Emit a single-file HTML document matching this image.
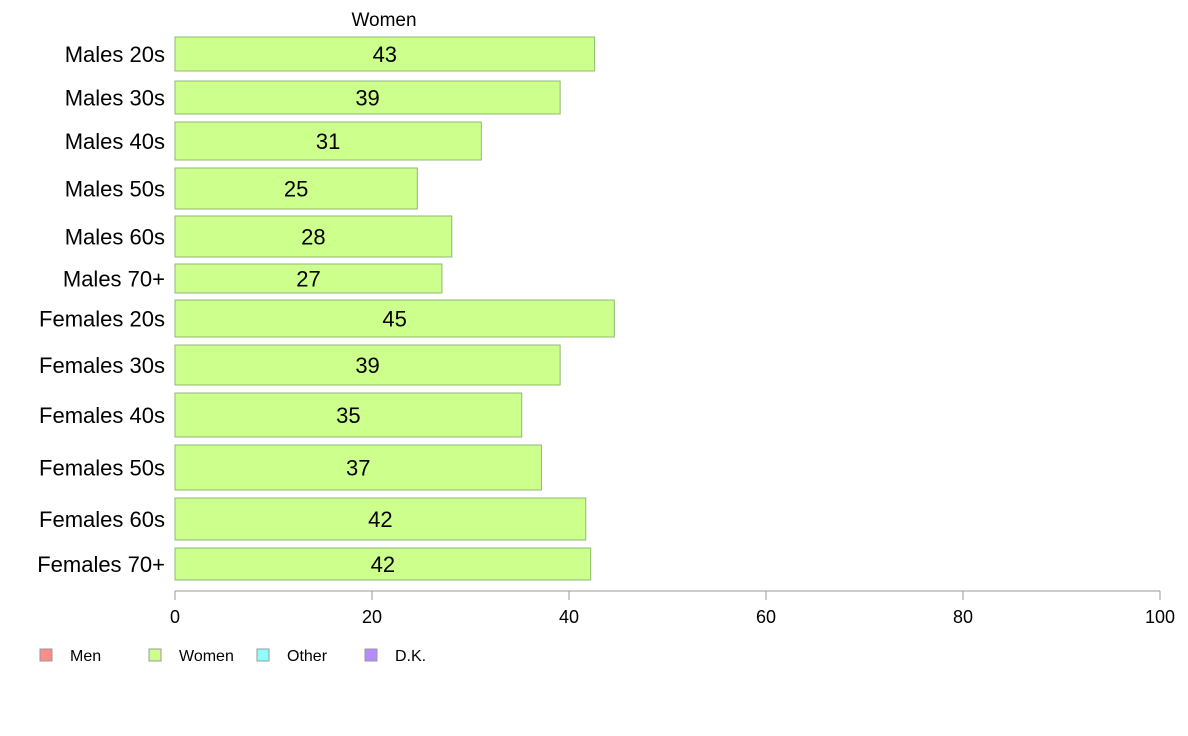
<!DOCTYPE html>
<html><head><meta charset="utf-8"><style>
body{margin:0;background:#fff;}
svg{display:block;font-family:"Liberation Sans",Arial,sans-serif;}
</style></head><body>
<svg id="chart" width="1188" height="736">
<text x="384" y="26" font-size="19" text-anchor="middle">Women</text>
<g id="bars"></g>
<g id="axis"></g>
<g id="legend"></g>
</svg>
<script>
const categories=["Males 20s","Males 30s","Males 40s","Males 50s","Males 60s","Males 70+","Females 20s","Females 30s","Females 40s","Females 50s","Females 60s","Females 70+"];
const values=[42.6,39.1,31.1,24.6,28.1,27.1,44.6,39.1,35.2,37.2,41.7,42.2];
const labels=["43","39","31","25","28","27","45","39","35","37","42","42"];
const xTicks=[0,20,40,60,80,100];
const legendNames=["Men","Women","Other","D.K."];
const legendColors=["#ff8c8c","#ccff8c","#8cffff","#b38cff"];
const bandTop=[37,81,122,168,216,264,300,345,393,445,498,548];
const bandBot=[71,114,160,209,257,293,337,385,437,490,540,580];
const NS="http://www.w3.org/2000/svg";
const x=v=>175+v*9.85;
function mk(t,a,p){const e=document.createElementNS(NS,t);for(const k in a)e.setAttribute(k,a[k]);p.appendChild(e);return e;}
const bars=document.getElementById('bars');
categories.forEach((c,i)=>{
  const y0=bandTop[i],y1=bandBot[i],ym=(y0+y1)/2;
  const r=mk('rect',{x:x(0),y:y0,width:x(values[i])-x(0),height:y1-y0,fill:'#ccff8c',stroke:'#8fb870','stroke-width':1},bars);
  
  
  const t=mk('text',{x:(x(0)+x(values[i]))/2,y:ym+8,'font-size':22,'text-anchor':'middle'},bars);
  t.textContent=labels[i];
  
  
  const l=mk('text',{x:165,y:ym+8,'font-size':22,'text-anchor':'end'},bars);
  l.textContent=c;
  
  
});
const ax=document.getElementById('axis');
const al=mk('line',{x1:x(0),x2:x(100),y1:591,y2:591,stroke:'#999'},ax);


xTicks.forEach(v=>{
  const tl=mk('line',{x1:x(v),x2:x(v),y1:591,y2:600,stroke:'#999'},ax);
  
  
  const t=mk('text',{x:x(v),y:623,'font-size':18,'text-anchor':'middle'},ax);
  t.textContent=v;
  
  
});
const lg=document.getElementById('legend');
const lx=[40,149,257,365];
legendNames.forEach((n,i)=>{
  const r=mk('rect',{x:lx[i],y:649,width:12,height:12,fill:legendColors[i],stroke:'#999'},lg);
  
  
  const t=mk('text',{x:lx[i]+30,y:661,'font-size':16},lg);
  t.textContent=n;
  
  
});
</script>
</body></html>
